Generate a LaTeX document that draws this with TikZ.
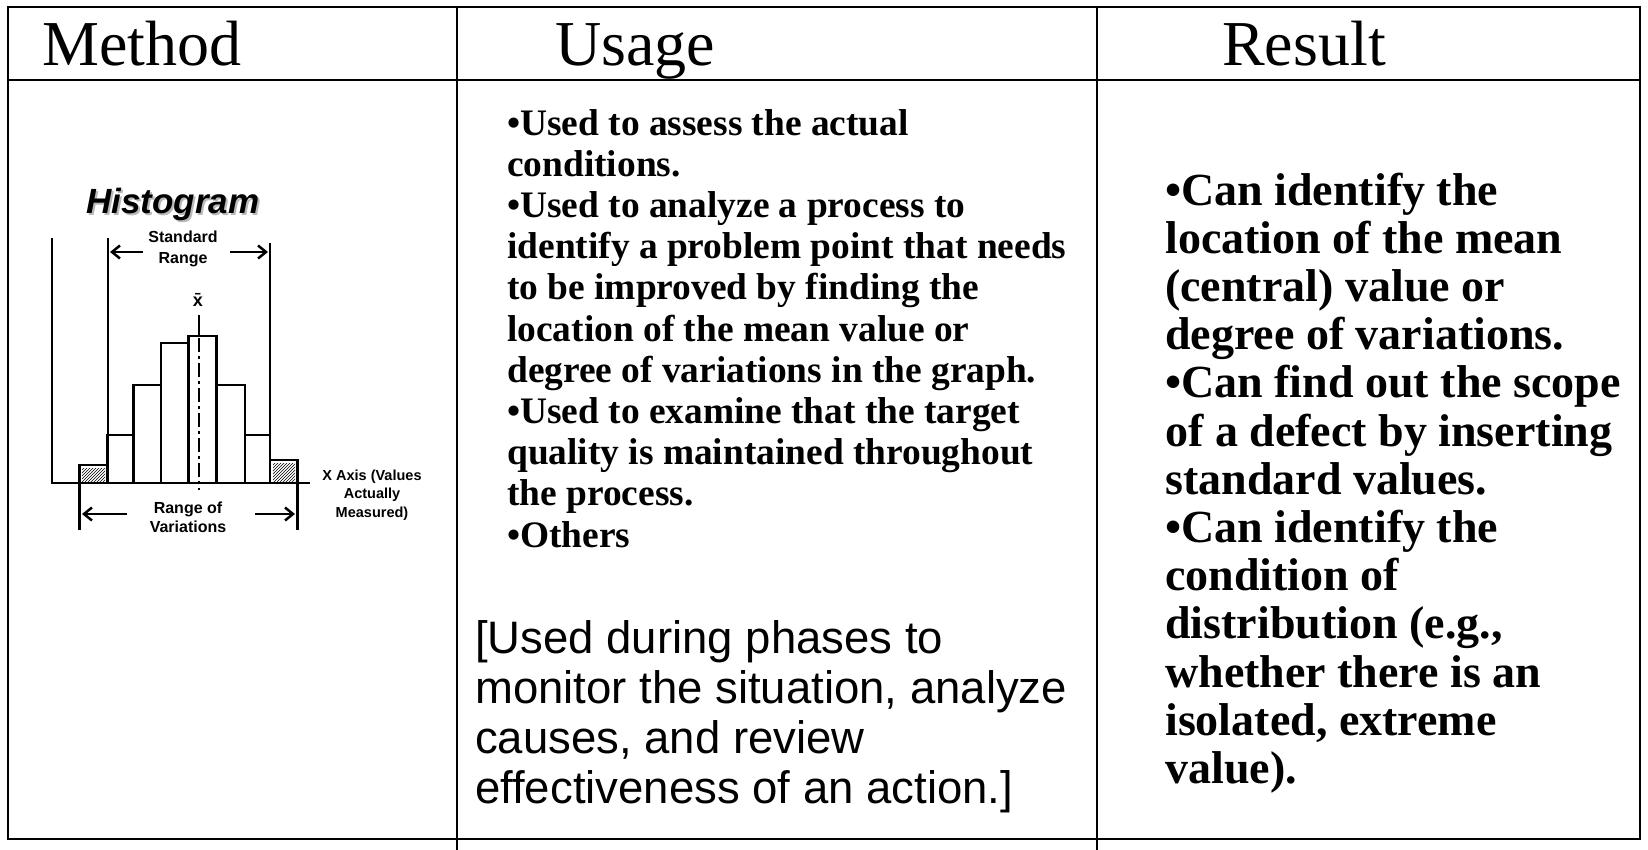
\documentclass[tikz,border=0pt]{standalone}
\usepackage{fontspec}
\setmainfont{Liberation Serif}
\setsansfont{Liberation Sans}
\usetikzlibrary{arrows.meta,patterns}
\begin{document}
\begin{tikzpicture}[x=1pt,y=-1pt,
  tbl/.style={line width=2pt, line cap=rect},
  hdr/.style={font=\fontsize{64}{70}\selectfont, inner sep=0, anchor=base west},
  usage/.style={font=\fontsize{37.4}{41}\selectfont\bfseries, inner sep=0, anchor=base west},
  note/.style={font=\sffamily\fontsize{45.5}{56}\selectfont, inner sep=0, anchor=base west},
  res/.style={font=\fontsize{46}{50}\selectfont\bfseries, inner sep=0, anchor=base west},
  hist/.style={line width=2.7pt},
  lbl/.style={font=\sffamily\bfseries\fontsize{16}{18}\selectfont, inner sep=0, anchor=base},
  axl/.style={font=\sffamily\bfseries\fontsize{14.5}{17}\selectfont, inner sep=0, anchor=base},
  harrow/.style={line width=2.5pt, -{Straight Barb[length=8pt,width=13pt]}}
]
\useasboundingbox (0,0) rectangle (1648,849);
\fill[white] (0,0) rectangle (1648,849);
% table
\draw[tbl] (8,7) -- (1640,7);
\draw[tbl] (8,80) -- (1640,80);
\draw[tbl] (8,839) -- (1640,839);
\draw[tbl] (8,7) -- (8,839);
\draw[tbl] (1640,7) -- (1640,839);
\draw[tbl] (457,7) -- (457,849);
\draw[tbl] (1097,7) -- (1097,849);
% headers
\node[hdr] (hm) at (42,65) {Method};
\node[hdr] (hu) at (555,65) {Usage};
\node[hdr] (hr) at (1222,65) {Result};
% usage
\foreach \t [count=\i from 0] in {{•Used to assess the actual},{conditions.},{•Used to analyze a process to},{identify a problem point that needs},{to be improved by finding the},{location of the mean value or},{degree of variations in the graph.},{•Used to examine that the target},{quality is maintained throughout},{the process.},{•Others}}
  \node[usage] (u\i) at (507,{135+41.2*\i}) {\t};
\foreach \t [count=\i from 0] in {{[Used during phases to},{monitor the situation, analyze},{causes, and review},{effectiveness of an action.]}}
  \node[note] (n\i) at (475,{653+50*\i}) {\t};
% result
\foreach \t [count=\i from 0] in {{•Can identify the},{location of the mean},{(central) value or},{degree of variations.},{•Can find out the scope},{of a defect by inserting},{standard values.},{•Can identify the},{condition of},{distribution (e.g.,},{whether there is an},{isolated, extreme},{value).}}
  \node[res] (r\i) at (1165,{205+48.2*\i}) {\t};
% histogram
\node[font=\sffamily\bfseries\itshape\fontsize{35}{38}\selectfont, text=gray!55, inner sep=0, anchor=base west] (hts) at (88,215.5) {Histogram};
\node[font=\sffamily\bfseries\itshape\fontsize{35}{38}\selectfont, inner sep=0, anchor=base west] (ht) at (86,213.3) {Histogram};
\fill[pattern=north east lines] (82,468) rectangle (105,481);
\fill[pattern=north east lines] (273,463) rectangle (295,481);
\draw[hist] (79.3,483) rectangle (107.3,465);
\draw[hist] (107.3,483) rectangle (133.3,435);
\draw[hist] (133.3,483) rectangle (161,385);
\draw[hist] (161,483) rectangle (188.3,343);
\draw[hist] (188.3,483) rectangle (216.7,336);
\draw[hist] (216.7,483) rectangle (245,385);
\draw[hist] (245,483) rectangle (270,435);
\draw[hist] (270,483) rectangle (297.7,460);
\draw[hist] (52,238) -- (52,483) -- (310,483);
\draw[hist] (108,238) -- (108,483);
\draw[hist] (270,243) -- (270,483);
\draw[line width=3pt] (79.3,483) -- (79.3,530);
\draw[line width=3pt] (297.7,483) -- (297.7,530);
\draw[line width=2.7pt] (199,315) -- (199,336);
\draw[line width=2.7pt, dash pattern=on 14pt off 4pt on 3pt off 4pt] (199,338) -- (199,490);
\coordinate (sl) at (143,252); \coordinate (slt) at (110,252);
\coordinate (sr) at (230,252); \coordinate (srt) at (268,252);
\draw[harrow] (sl) -- (slt);
\draw[harrow] (sr) -- (srt);
\coordinate (rl) at (127,514); \coordinate (rlt) at (82,514);
\coordinate (rr) at (255,514); \coordinate (rrt) at (295,514);
\draw[harrow] (rl) -- (rlt);
\draw[harrow] (rr) -- (rrt);
\node[lbl] (s1) at (183,242.7) {Standard};
\node[lbl] (s2) at (183,263) {Range};
\node[lbl, font=\sffamily\bfseries\fontsize{18}{18}\selectfont] (xb) at (198,306) {\={x}};
\node[lbl] (v1) at (188,513) {Range of};
\node[lbl] (v2) at (188,532) {Variations};
\node[axl] (a1) at (372,480) {X Axis (Values};
\node[axl] (a2) at (372,498.5) {Actually};
\node[axl] (a3) at (372,517) {Measured)};
\end{tikzpicture}
\end{document}
